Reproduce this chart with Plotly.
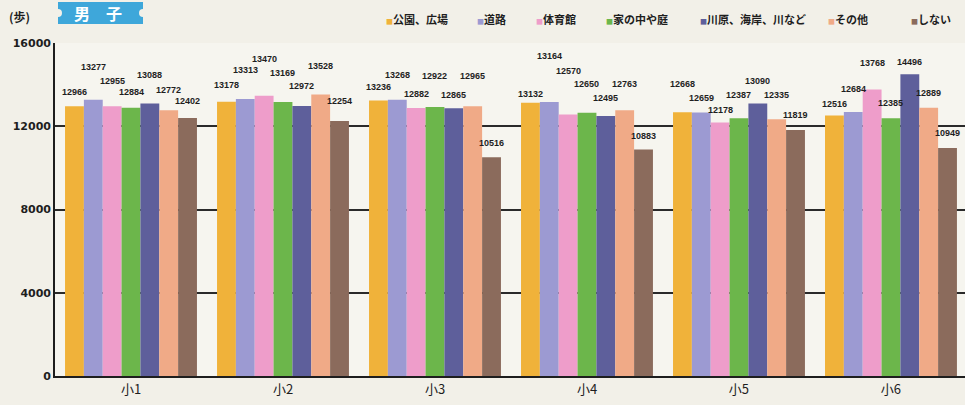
import plotly.graph_objects as go

# ---- data ----
grades = ["小1", "小2", "小3", "小4", "小5", "小6"]
series_names = ["公園、広場", "道路", "体育館", "家の中や庭", "川原、海岸、川など", "その他", "しない"]
park = [12966, 13178, 13236, 13132, 12668, 12516]
road = [13277, 13313, 13268, 13164, 12659, 12684]
gym = [12955, 13470, 12882, 12570, 12178, 13768]
home = [12884, 13169, 12922, 12650, 12387, 12385]
river = [13088, 12972, 12865, 12495, 13090, 14496]
other = [12772, 13528, 12965, 12763, 12335, 12889]
no_play = [12402, 12254, 10516, 10883, 11819, 10949]
y_ticks = [0, 4000, 8000, 12000, 16000]

series_values = [park, road, gym, home, river, other, no_play]

# ---- styles ----
colors = ["#f0b23a", "#9c9ad2", "#ee9dca", "#6cb64b", "#5e5f9b", "#f0aa87", "#8b6b5c"]
# staggered label offsets (px above bar top), per series per grade
label_shift = [
    [14, 17, 14, 9, 28, 12],
    [33, 29, 25, 46, 15, 23],
    [25, 37, 14, 43, 13, 26],
    [16, 29, 31, 29, 23, 15],
    [29, 20, 13, 18, 23, 12],
    [20, 28, 30, 26, 24, 15],
    [17, 20, 14, 14, 15, 15],
]
legend_x_px = [384, 475, 534, 604, 698, 826, 909]

W, H = 965, 405
ML, MR, MT, MB = 55, 0, 43, 29
PW, PH = W - ML - MR, H - MT - MB
BARGAP = 0.132
BG = "#f2f0e8"
PLOT_BG = "#f6f5ef"
INK = "#1e1e1e"

fig = go.Figure()
for name, vals, col in zip(series_names, series_values, colors):
    fig.add_trace(go.Bar(
        x=grades, y=vals, name=name, marker=dict(color=col, line=dict(width=0)),
        showlegend=False,
    ))

n = len(series_names)
gw = 1 - BARGAP
annotations = []
for j, vals in enumerate(series_values):
    off = -gw / 2 + (j + 0.5) * gw / n
    for i, v in enumerate(vals):
        annotations.append(dict(
            x=i + off, y=v, xref="x", yref="y", text=f"<b>{v}</b>", showarrow=False,
            yshift=label_shift[j][i], yanchor="middle", xanchor="center",
            font=dict(family="Liberation Sans Narrow, Liberation Sans, Arial", size=9, color=INK),
        ))

def px_x(p):
    return (p - ML) / PW

def px_y(p):
    return (H - MB - p) / PH

# legend as text annotations
for name, col, px in zip(series_names, colors, legend_x_px):
    annotations.append(dict(
        x=px_x(px), y=px_y(19), xref="paper", yref="paper",
        xanchor="left", yanchor="middle", showarrow=False,
        text=f'<span style="color:{col};font-size:7px">■</span><b>{name}</b>',
        font=dict(family="Noto Sans CJK JP", size=11, color=INK),
    ))

# unit label
annotations.append(dict(
    x=px_x(7), y=px_y(17), xref="paper", yref="paper",
    xanchor="left", yanchor="middle", showarrow=False, text="<b>(歩)</b>",
    font=dict(family="Noto Sans CJK JP", size=12, color=INK),
))
# badge title
annotations.append(dict(
    x=px_x(98), y=px_y(13), xref="paper", yref="paper",
    xanchor="center", yanchor="middle", showarrow=False, text="<b>男　子</b>",
    font=dict(family="Noto Sans CJK JP", size=16, color="white"),
))

shapes = [
    dict(type="rect", xref="paper", yref="paper", x0=px_x(58), x1=px_x(143),
         y0=px_y(24), y1=px_y(2), fillcolor="#3ea7da", line=dict(width=0), layer="above"),
    dict(type="circle", xref="paper", yref="paper", x0=px_x(54), x1=px_x(62),
         y0=px_y(17), y1=px_y(9), fillcolor=BG, line=dict(width=0), layer="above"),
    dict(type="circle", xref="paper", yref="paper", x0=px_x(139), x1=px_x(147),
         y0=px_y(17), y1=px_y(9), fillcolor=BG, line=dict(width=0), layer="above"),
]

fig.update_layout(
    width=W, height=H, autosize=False,
    margin=dict(l=ML, r=MR, t=MT, b=MB, pad=0),
    paper_bgcolor=BG, plot_bgcolor=PLOT_BG,
    barmode="group", bargap=BARGAP, bargroupgap=0,
    annotations=annotations, shapes=shapes,
    xaxis=dict(
        type="category", range=[-0.5, 5.487], showgrid=False,
        showline=True, linecolor=INK, linewidth=2, ticks="",
        tickfont=dict(family="Noto Sans CJK JP", size=13, color=INK),
        fixedrange=True,
    ),
    yaxis=dict(
        range=[0, 16000], tickvals=y_ticks, ticktext=[str(t) for t in y_ticks],
        showgrid=True, gridcolor="#2a2a2a", gridwidth=1.6,
        showline=True, linecolor=INK, linewidth=1.6, zeroline=False, ticks="",
        tickfont=dict(family="DejaVu Sans, Liberation Sans", size=11, color=INK, weight="bold"),
        fixedrange=True,
    ),
)

fig.write_html(
    "out.html",
    config={"displayModeBar": False},
    post_script=f"document.body.style.margin='0';document.body.style.background='{BG}';document.body.style.overflow='hidden';",
)
